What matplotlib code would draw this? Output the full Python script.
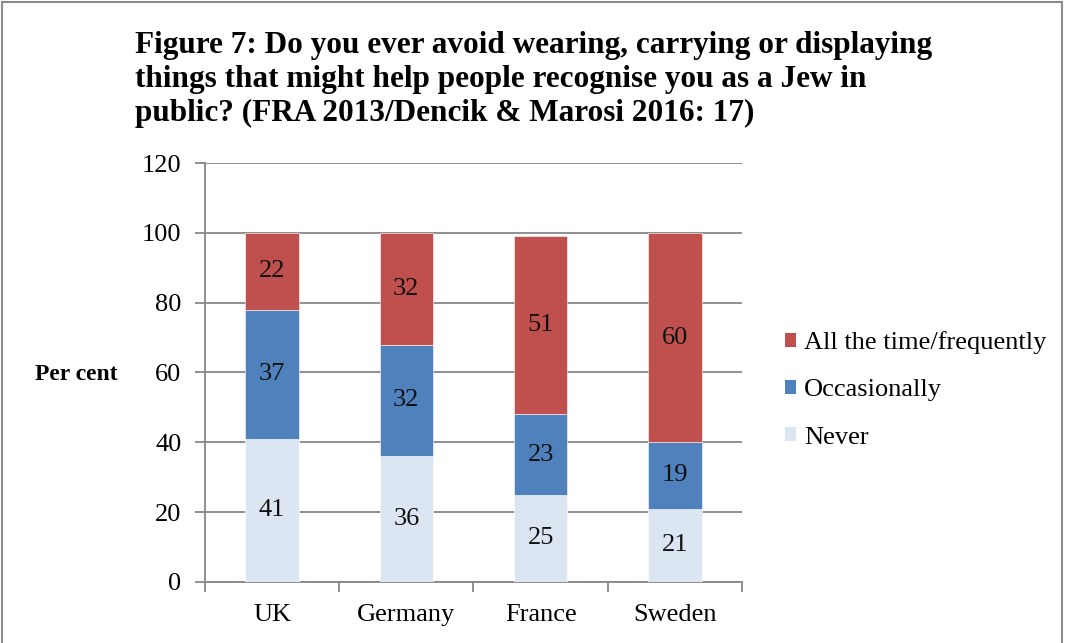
import matplotlib
matplotlib.use("Agg")
import matplotlib.pyplot as plt
from matplotlib.patches import Patch, Rectangle
import numpy as np

countries = ["UK", "Germany", "France", "Sweden"]
never = [41, 36, 25, 21]
occasionally = [37, 32, 23, 19]
frequently = [22, 32, 51, 60]
series_labels = ["Never", "Occasionally", "All the time/frequently"]
colors = ["#DCE6F2", "#4F81BD", "#C0504D"]
yticks = [0, 20, 40, 60, 80, 100, 120]

plt.rcParams["font.family"] = ["Liberation Serif", "DejaVu Serif"]

fig = plt.figure(figsize=(10.67, 6.43), dpi=100)
fig.patches.append(Rectangle((0.002, -0.01), 0.993, 1.007, transform=fig.transFigure,
                             fill=False, edgecolor="#8c8c8c", linewidth=1.5, zorder=10))

ax = fig.add_axes([0.1921, 0.0949, 0.5033, 0.6516])
x = np.arange(len(countries))
width = 0.4
bottom = np.zeros(len(countries))
for vals, col, lab in zip([never, occasionally, frequently], colors, series_labels):
    ax.bar(x, vals, width, bottom=bottom, color=col, label=lab, zorder=3,
           edgecolor="white", linewidth=0.4)
    for xi, b, v in zip(x, bottom, vals):
        ax.text(xi, b + v / 2, str(v), ha="center", va="center", fontsize=19,
                color="#111111", zorder=4)
    bottom += np.array(vals)

ax.set_xlim(-0.5, len(countries) - 0.5)
ax.set_ylim(0, 120)
ax.set_yticks(yticks)
ax.set_yticklabels([str(t) for t in yticks], fontsize=19)
ax.set_xticks(x)
ax.set_xticklabels(countries, fontsize=19)
ax.set_xticks(np.arange(-0.5, len(countries)), minor=True)
ax.tick_params(axis="x", which="major", length=0, pad=16)
ax.tick_params(axis="x", which="minor", length=7, color="#878787", width=1.3)
ax.tick_params(axis="y", length=7, color="#878787", width=1.3, pad=10)
ax.yaxis.grid(True, color="#878787", linewidth=1.3, zorder=0)
ax.set_axisbelow(True)
for s in ["top", "right"]:
    ax.spines[s].set_visible(False)
ax.spines["left"].set_color("#878787")
ax.spines["left"].set_linewidth(1.3)
ax.spines["bottom"].set_color("#878787")
ax.spines["bottom"].set_linewidth(1.3)

fig.text(0.033, 1 - 375 / 643, "Per cent", fontsize=17, fontweight="bold", va="center", ha="left")

fig.text(0.1265, 1 - 31 / 643,
         "Figure 7: Do you ever avoid wearing, carrying or displaying\n"
         "things that might help people recognise you as a Jew in\n"
         "public? (FRA 2013/Dencik & Marosi 2016: 17)",
         fontsize=22.5, fontweight="bold", va="top", ha="left", linespacing=1.22)

handles = [Patch(facecolor=c) for c in colors[::-1]]
fig.legend(handles, series_labels[::-1], loc="center left",
           bbox_to_anchor=(0.713, 1 - 390 / 643), frameon=False, fontsize=19,
           handlelength=0.45, handleheight=0.45, handletextpad=0.3, labelspacing=0.95)

fig.savefig("out.png", dpi=100)
